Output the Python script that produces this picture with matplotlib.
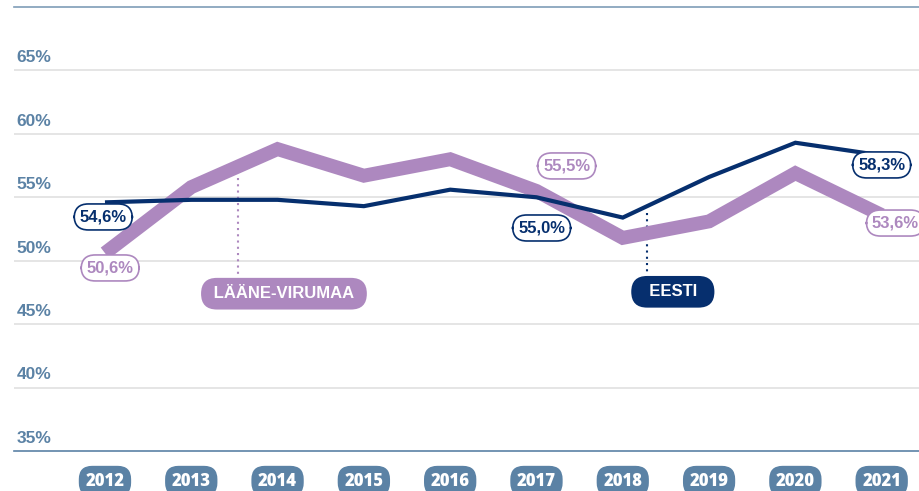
import matplotlib
matplotlib.use("Agg")
import matplotlib.pyplot as plt
from matplotlib.transforms import blended_transform_factory

years = ["2012", "2013", "2014", "2015", "2016", "2017", "2018", "2019", "2020", "2021"]
eesti = [54.6, 54.8, 54.8, 54.3, 55.6, 55.0, 53.4, 56.6, 59.3, 58.3]
laane_virumaa = [50.6, 55.8, 58.8, 56.7, 58.0, 55.5, 51.8, 53.1, 56.9, 53.6]
y_ticks = [35, 40, 45, 50, 55, 60, 65]

NAVY = "#062f6e"
PURPLE = "#ad88bf"
STEEL = "#5b82a5"
GRID = "#dedede"

plt.rcParams["font.family"] = ["Liberation Sans", "DejaVu Sans"]

fig = plt.figure(figsize=(9.2, 4.91), dpi=100)
ax = fig.add_axes([14 / 920, 1 - 451 / 491, 1 - 14 / 920, 444 / 491])
x = list(range(len(years)))

ax.set_xlim(-1.054, 9.444)
ax.set_ylim(35, 70)

# grid + text labels for y axis
for v in y_ticks:
    if v > 35:
        ax.axhline(v, color=GRID, lw=1.1, zorder=0)
    ax.text(0.003, v + 0.4, f"{v}%", transform=blended_transform_factory(ax.transAxes, ax.transData),
            color=STEEL, fontsize=12.5, fontweight="bold", ha="left", va="bottom")

for s in ["left", "right"]:
    ax.spines[s].set_visible(False)
ax.spines["top"].set_color("#7f9db8")
ax.spines["top"].set_linewidth(1.2)
ax.spines["bottom"].set_color(STEEL)
ax.spines["bottom"].set_linewidth(1.2)
ax.set_xticks([])
ax.set_yticks([])

ax.plot(x, laane_virumaa, color=PURPLE, lw=10, solid_joinstyle="miter", solid_capstyle="butt", zorder=2)
ax.plot(x, eesti, color=NAVY, lw=3, solid_joinstyle="miter", solid_capstyle="butt", zorder=3)

# dotted pointers to series names
ax.plot([1.54, 1.54], [56.5, 48.9], color=PURPLE, lw=1.5, ls=(0, (1, 2)), zorder=1)
ax.plot([6.28, 6.28], [53.8, 49.1], color=NAVY, lw=1.5, ls=(0, (1, 2)), zorder=1)

ax.text(2.074, 47.4, " LÄÄNE-VIRUMAA ", color="white", fontsize=12, fontweight="bold",
        ha="center", va="center", zorder=5,
        bbox=dict(boxstyle="round,pad=0.5,rounding_size=0.95", ec="none", fc=PURPLE))
ax.text(6.58, 47.55, "  EESTI  ", color="white", fontsize=12, fontweight="bold",
        ha="center", va="center", zorder=5,
        bbox=dict(boxstyle="round,pad=0.5,rounding_size=0.95", ec="none", fc=NAVY))

# value labels
def value_label(xi, yi, txt, col):
    ax.text(xi, yi, txt, color=col, fontsize=12, fontweight="bold", ha="center", va="center",
            bbox=dict(boxstyle="round,pad=0.33,rounding_size=0.85", fc="white", ec=col, lw=1.2),
            zorder=6, clip_on=False)

value_label(-0.02, 53.45, "54,6%", NAVY)
value_label(0.06, 49.43, "50,6%", PURPLE)
value_label(5.35, 57.47, "55,5%", PURPLE)
value_label(5.06, 52.58, "55,0%", NAVY)
value_label(9.0, 57.55, "58,3%", NAVY)
value_label(9.16, 52.97, "53,6%", PURPLE)

# year pills along the bottom
trans = blended_transform_factory(ax.transData, fig.transFigure)
for xi, yr in zip(x, years):
    ax.text(xi, 1 - 481 / 491, yr, transform=trans, color="white", fontsize=12, fontweight="heavy",
            family=["Open Sans", "DejaVu Sans"], ha="center", va="center",
            bbox=dict(boxstyle="round,pad=0.4,rounding_size=0.8", fc=STEEL, ec="none"), clip_on=False)

fig.savefig("out.png", dpi=100)
